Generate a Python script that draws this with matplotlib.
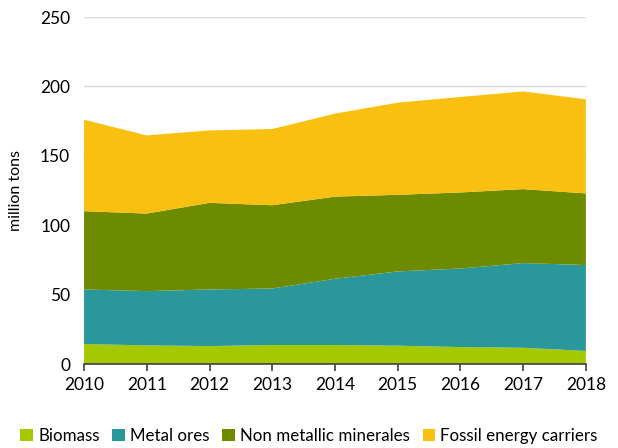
import matplotlib
matplotlib.use("Agg")
import matplotlib.pyplot as plt
from matplotlib.patches import Patch

years = [2010, 2011, 2012, 2013, 2014, 2015, 2016, 2017, 2018]
categories = ["Biomass", "Metal ores", "Non metallic minerales", "Fossil energy carriers"]
biomass = [14.4, 13.4, 12.9, 13.7, 13.7, 13.2, 12.2, 11.7, 9.4]
metal_ores = [39.3, 39.1, 40.8, 40.7, 47.7, 53.5, 56.6, 61.0, 61.9]
non_metallic = [56.4, 55.9, 62.4, 60.0, 59.2, 55.2, 54.8, 53.3, 51.6]
fossil = [65.9, 56.3, 52.2, 54.9, 59.8, 66.4, 68.8, 70.4, 67.8]
colors = ["#A5C900", "#2A979B", "#6E8B00", "#F9C010"]

plt.rcParams['font.family'] = ['Lato', 'DejaVu Sans']
fig = plt.figure(figsize=(6.18, 4.48), dpi=100)
ax = fig.add_axes([0.136, 0.1875, 0.812, 0.7745])
ax.stackplot(years, biomass, metal_ores, non_metallic, fossil, colors=colors, linewidth=0)
ax.set_xlim(2010, 2018)
ax.set_ylim(0, 250)
ax.set_yticks(range(0, 251, 50))
ax.set_xticks(years)
ax.grid(axis='y', color='#D9D9D9', linewidth=1)
ax.set_axisbelow(True)
for s in ['left', 'right', 'top']:
    ax.spines[s].set_visible(False)
ax.spines['bottom'].set_color('#404040')
ax.spines['bottom'].set_linewidth(1.2)
ax.tick_params(axis='y', length=0, labelsize=12.5, colors='#000000', pad=10)
ax.tick_params(axis='x', length=5, width=1.2, color='#404040', direction='out', labelsize=12.5, pad=4)
ax.set_ylabel("million tons", fontsize=11.5, labelpad=12)
handles = [Patch(facecolor=c, label=l) for c, l in zip(colors, categories)]
fig.legend(handles=handles, loc='lower center', bbox_to_anchor=(0.5, -0.025), ncol=4, frameon=False,
           fontsize=12.2, handlelength=0.75, handleheight=0.75, handletextpad=0.3, columnspacing=0.75)
fig.savefig("out.png", dpi=100)
